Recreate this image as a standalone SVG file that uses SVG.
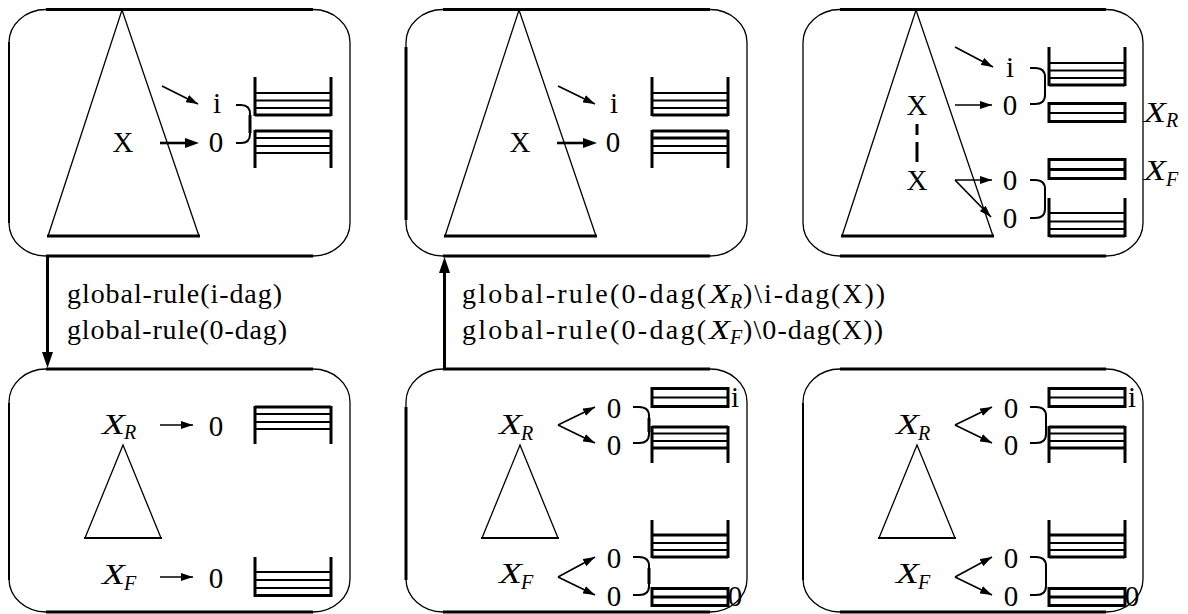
<svg xmlns="http://www.w3.org/2000/svg" width="1188" height="614" viewBox="0 0 1188 614" font-family="'Liberation Serif', 'DejaVu Serif', serif">
<style>
.th{stroke:#000;stroke-width:1.3;fill:none}
.md{stroke:#000;stroke-width:2;fill:none}
.b3{stroke:#000;stroke-width:3;fill:none}
.ar{stroke:#000;stroke-width:1.7;fill:none;marker-end:url(#ah)}
.arb{stroke:#000;stroke-width:2.6;fill:none;marker-end:url(#ahb)}
text{font-family:"Liberation Serif","DejaVu Serif",serif;font-size:29px;fill:#000}
.it{font-style:italic}
.sub{font-style:italic;font-size:20px}
.m{text-anchor:middle}
.lb{font-size:28px}
</style>
<defs>
<marker id="ah" markerUnits="userSpaceOnUse" markerWidth="13" markerHeight="8" refX="12" refY="4" orient="auto"><path d="M0,0 L12,4 L0,8 z" fill="#000"/></marker>
<marker id="ahb" markerUnits="userSpaceOnUse" markerWidth="15" markerHeight="10" refX="4" refY="5" orient="auto"><path d="M0,0 L14,5 L0,10 z" fill="#000"/></marker>
<marker id="ahv" markerUnits="userSpaceOnUse" markerWidth="17" markerHeight="12" refX="4" refY="5.5" orient="auto"><path d="M0,0 L16,5.5 L0,11 z" fill="#000"/></marker>
</defs>
<rect width="1188" height="614" fill="#fff"/>

<!-- Panel 1 -->
<g id="panel1">
<path class="th" d="M46,9.5 H313 A37,33 0 0 1 350,42.5 V223 A37,33 0 0 1 313,256 H46 A37,33 0 0 1 9,223 V42.5 A37,33 0 0 1 46,9.5 Z"/>
<path class="b3" d="M46,9.5 H313 M46,256 H313"/>
<path class="md" d="M9,42 V223"/>
<path class="th" d="M48,236 L122,10 L199,236"/>
<path class="b3" d="M47,236 H200"/>
<text x="123" y="152" class="m">X</text>
<text x="217" y="113" class="m">i</text>
<text x="216" y="152" class="m">0</text>
<line class="ar" x1="162" y1="86" x2="198" y2="104"/>
<line class="arb" x1="160" y1="143" x2="189" y2="143"/>
<path class="md" d="M236,105 H241 Q250,105 250,114 V134 Q250,143 241,143 H236"/>
<path class="b3" d="M250,115 V133"/>
<path class="b3" d="M255,77 V116 M331,77 V116 M255,115 H331"/>
<path class="md" d="M255,93 H331 M255,100.5 H331 M255,108 H331"/>
<path class="b3" d="M255,131 H331 M255,130 V168 M331,130 V168"/>
<path class="md" d="M255,138 H331 M255,146 H331 M255,153 H331"/>
</g>

<!-- Panel 2 -->
<g id="panel2">
<path class="th" d="M443,9.5 H710 A37,33 0 0 1 747,42.5 V223 A37,33 0 0 1 710,256 H443 A37,33 0 0 1 406,223 V42.5 A37,33 0 0 1 443,9.5 Z"/>
<path class="b3" d="M443,9.5 H710 M443,256 H710 M406,47 V220"/>
<path class="th" d="M445,236 L519,10 L596,236"/>
<path class="b3" d="M444,236 H597"/>
<text x="520" y="152" class="m">X</text>
<text x="614" y="113" class="m">i</text>
<text x="613" y="152" class="m">0</text>
<line class="ar" x1="558" y1="86" x2="595" y2="104"/>
<line class="arb" x1="557" y1="143" x2="587" y2="143"/>
<path class="b3" d="M652,77 V116 M728,77 V116 M652,115 H728"/>
<path class="md" d="M652,93 H728 M652,100.5 H728 M652,108 H728"/>
<path class="b3" d="M652,131 H728 M652,130 V168 M728,130 V168 M652,138 H728"/>
<path class="md" d="M652,146 H728 M652,153 H728"/>
</g>

<!-- Panel 3 -->
<g id="panel3">
<path class="th" d="M840,9.5 H1106 A37,33 0 0 1 1143,42.5 V223 A37,33 0 0 1 1106,256 H840 A37,33 0 0 1 803,223 V42.5 A37,33 0 0 1 840,9.5 Z"/>
<path class="b3" d="M840,9.5 H1106 M840,256 H1106"/>
<path class="th" d="M842,236 L916,10 L993,236"/>
<path class="b3" d="M841,236 H994"/>
<text x="917" y="115" class="m">X</text>
<text x="917" y="190" class="m">X</text>
<path class="b3" d="M917,124 V135 M917,142 V162"/>
<text x="1010" y="77" class="m">i</text>
<text x="1010" y="115" class="m">0</text>
<text x="1010" y="190" class="m">0</text>
<text x="1010" y="228" class="m">0</text>
<line class="ar" x1="955" y1="47" x2="993" y2="67"/>
<line class="ar" x1="955" y1="105" x2="992" y2="105"/>
<line class="ar" x1="955" y1="180" x2="992" y2="180"/>
<line class="ar" x1="955" y1="180" x2="991" y2="217"/>
<path class="md" d="M1030,68 H1035 Q1045,68 1045,77 V95 Q1045,104 1035,104 H1030"/>
<path class="md" d="M1030,180 H1035 Q1045,180 1045,189 V209 Q1045,218 1035,218 H1030"/>
<path class="b3" d="M1049,47 V86 M1125,47 V86 M1049,85 H1125"/>
<path class="md" d="M1049,63 H1125 M1049,70.5 H1125 M1049,78 H1125"/>
<rect class="b3" x="1049" y="103.5" width="76" height="18"/>
<path class="md" d="M1049,113 H1125"/>
<rect class="b3" x="1049" y="159.5" width="76" height="19"/>
<path class="b3" d="M1049,169.5 H1125"/>
<path class="b3" d="M1049,198 V237 M1125,198 V237 M1049,236 H1125"/>
<path class="md" d="M1049,213 H1125 M1049,221.5 H1125 M1049,229 H1125"/>
<text x="1144" y="122" class="it" textLength="22" lengthAdjust="spacingAndGlyphs">X</text>
<text x="1166" y="127" class="sub">R</text>
<text x="1144" y="180" class="it" textLength="22" lengthAdjust="spacingAndGlyphs">X</text>
<text x="1166" y="186" class="sub">F</text>
</g>

<!-- Panel 4 -->
<g id="panel4">
<path class="th" d="M46,369 H313 A37,33 0 0 1 350,402 V579 A37,33 0 0 1 313,612 H46 A37,33 0 0 1 9,579 V402 A37,33 0 0 1 46,369 Z"/>
<path class="b3" d="M46,369 H313 M46,612 H313"/>
<path class="md" d="M9,403 V580"/>
<text x="102" y="434" class="it" textLength="23" lengthAdjust="spacingAndGlyphs">X</text>
<text x="124" y="439" class="sub">R</text>
<text x="102" y="584" class="it" textLength="23" lengthAdjust="spacingAndGlyphs">X</text>
<text x="124" y="590" class="sub">F</text>
<line class="ar" x1="160" y1="425" x2="193" y2="425"/>
<line class="ar" x1="160" y1="577" x2="193" y2="577"/>
<text x="216" y="436" class="m">0</text>
<text x="216" y="588" class="m">0</text>
<path class="th" d="M85,538 L123,445 L161,538"/>
<path class="md" d="M84,538 H162"/>
<path class="b3" d="M255,407 H331 M255,406 V444 M331,406 V444"/>
<path class="md" d="M255,414 H331 M255,422 H331 M255,429 H331"/>
<path class="b3" d="M255,557 V597 M331,557 V597 M255,595.5 H331"/>
<path class="md" d="M255,572 H331 M255,580 H331 M255,588 H331"/>
</g>

<!-- Panel 5 -->
<g id="panel5">
<path class="th" d="M443,369 H710 A37,33 0 0 1 747,402 V579 A37,33 0 0 1 710,612 H443 A37,33 0 0 1 406,579 V402 A37,33 0 0 1 443,369 Z"/>
<path class="b3" d="M443,369 H710 M443,612 H710 M406,407 V580"/>
<text x="499" y="434" class="it" textLength="23" lengthAdjust="spacingAndGlyphs">X</text>
<text x="521" y="440" class="sub">R</text>
<text x="499" y="583" class="it" textLength="23" lengthAdjust="spacingAndGlyphs">X</text>
<text x="521" y="589" class="sub">F</text>
<path class="th" d="M482,538 L520,445 L558,538"/>
<path class="md" d="M481,538 H559"/>
<line class="ar" x1="558" y1="425" x2="595" y2="407"/>
<line class="ar" x1="558" y1="425" x2="595" y2="443"/>
<line class="ar" x1="558" y1="577" x2="595" y2="557"/>
<line class="ar" x1="558" y1="577" x2="595" y2="595"/>
<text x="614" y="418" class="m">0</text>
<text x="614" y="455" class="m">0</text>
<text x="614" y="568" class="m">0</text>
<text x="614" y="606" class="m">0</text>
<path class="md" d="M633,407 H639 Q649,407 649,416 V434 Q649,443 639,443 H633"/>
<path class="md" d="M633,557 H639 Q649,557 649,566 V586 Q649,595 639,595 H633"/>
<path class="b3" d="M649,418 V432 M649,568 V584"/>
<rect class="b3" x="652" y="388.5" width="76" height="18"/>
<path class="md" d="M652,397.5 H728"/>
<text x="735" y="407" class="m">i</text>
<path class="b3" d="M652,427 H728 M652,426 V463 M728,426 V463"/>
<path class="md" d="M652,433.5 H728 M652,441 H728"/>
<path class="b3" d="M652,448 H728"/>
<path class="b3" d="M652,520 V558 M728,520 V558 M652,557 H728 M652,535 H728"/>
<path class="md" d="M652,543 H728 M652,550 H728"/>
<rect class="b3" x="652" y="588.5" width="76" height="17"/>
<path class="b3" d="M652,597 H728"/>
<text x="735" y="606" class="m">0</text>
</g>

<!-- Panel 6 -->
<g id="panel6">
<path class="th" d="M840,369 H1106 A37,33 0 0 1 1143,402 V579 A37,33 0 0 1 1106,612 H840 A37,33 0 0 1 803,579 V402 A37,33 0 0 1 840,369 Z"/>
<path class="b3" d="M840,369 H1106 M840,612 H1106"/>
<path class="md" d="M803,403 V580"/>
<text x="896" y="434" class="it" textLength="23" lengthAdjust="spacingAndGlyphs">X</text>
<text x="918" y="440" class="sub">R</text>
<text x="896" y="583" class="it" textLength="23" lengthAdjust="spacingAndGlyphs">X</text>
<text x="918" y="589" class="sub">F</text>
<path class="th" d="M879,538 L917,445 L955,538"/>
<path class="md" d="M878,538 H956"/>
<line class="ar" x1="955" y1="425" x2="992" y2="407"/>
<line class="ar" x1="955" y1="425" x2="992" y2="443"/>
<line class="ar" x1="955" y1="577" x2="992" y2="557"/>
<line class="ar" x1="955" y1="577" x2="992" y2="595"/>
<text x="1011" y="418" class="m">0</text>
<text x="1011" y="455" class="m">0</text>
<text x="1011" y="568" class="m">0</text>
<text x="1011" y="606" class="m">0</text>
<path class="md" d="M1030,407 H1036 Q1046,407 1046,416 V434 Q1046,443 1036,443 H1030"/>
<path class="md" d="M1030,557 H1036 Q1046,557 1046,566 V586 Q1046,595 1036,595 H1030"/>
<rect class="b3" x="1049" y="388.5" width="76" height="18"/>
<path class="md" d="M1049,397.5 H1125"/>
<text x="1132" y="407" class="m">i</text>
<path class="b3" d="M1049,427 H1125 M1049,426 V463 M1125,426 V463"/>
<path class="md" d="M1049,433.5 H1125 M1049,441 H1125"/>
<path class="b3" d="M1049,448 H1125"/>
<path class="b3" d="M1049,520 V558 M1125,520 V558 M1049,557 H1125 M1049,535 H1125"/>
<path class="md" d="M1049,543 H1125 M1049,550 H1125"/>
<rect class="b3" x="1049" y="588.5" width="76" height="17"/>
<path class="b3" d="M1049,597 H1125"/>
<text x="1132" y="606" class="m">0</text>
</g>

<!-- Connectors -->
<g id="connectors">
<line x1="47.5" y1="256" x2="47.5" y2="356" stroke="#000" stroke-width="3" marker-end="url(#ahv)"/>
<line x1="444.5" y1="369" x2="444.5" y2="269" stroke="#000" stroke-width="3" marker-end="url(#ahv)"/>
<text x="67" y="303" class="lb" textLength="215" lengthAdjust="spacing">global-rule(i-dag)</text>
<text x="67" y="339" class="lb" textLength="220" lengthAdjust="spacing">global-rule(0-dag)</text>
<text x="462" y="303" class="lb" textLength="244" lengthAdjust="spacing">global-rule(0-dag(</text>
<text x="709" y="303" class="lb it" textLength="21" lengthAdjust="spacingAndGlyphs">X</text>
<text x="730" y="308" class="sub">R</text>
<text x="743" y="303" class="lb" textLength="142" lengthAdjust="spacing">)\i-dag(X))</text>
<text x="462" y="339" class="lb" textLength="244" lengthAdjust="spacing">global-rule(0-dag(</text>
<text x="709" y="339" class="lb it" textLength="21" lengthAdjust="spacingAndGlyphs">X</text>
<text x="730" y="344" class="sub">F</text>
<text x="743" y="339" class="lb" textLength="140" lengthAdjust="spacing">)\0-dag(X))</text>
</g>
</svg>
